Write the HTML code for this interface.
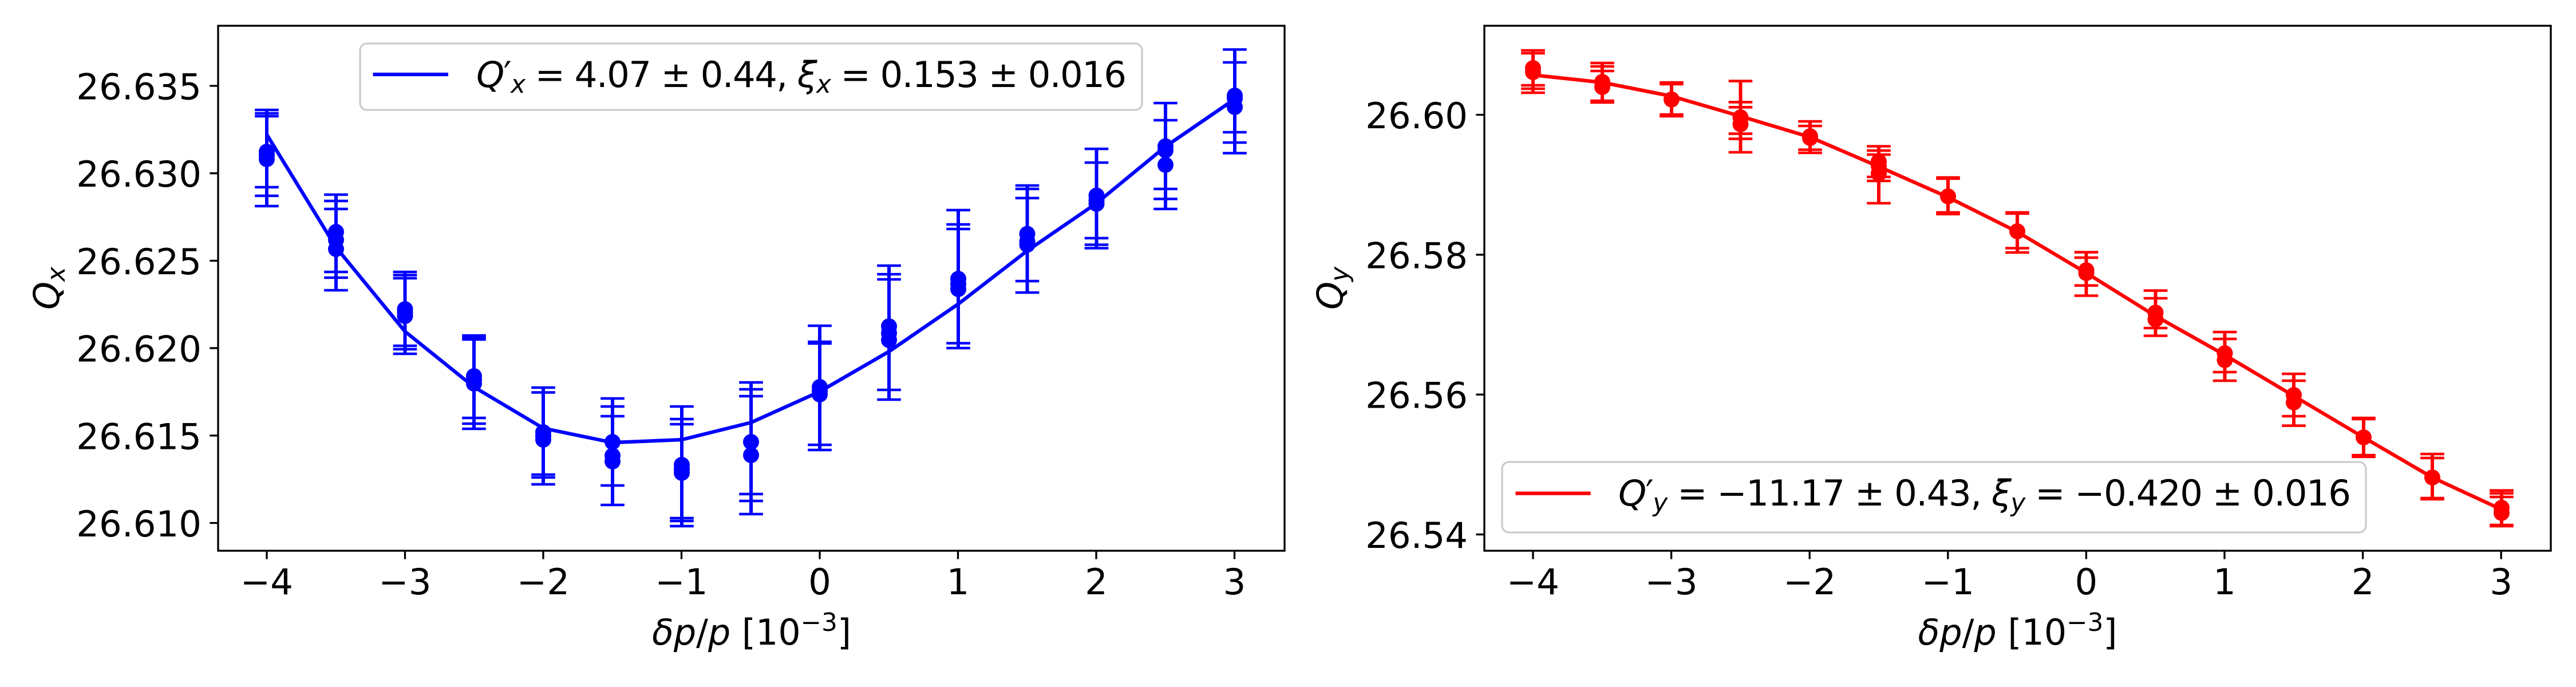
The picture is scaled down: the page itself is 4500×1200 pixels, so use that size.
<!DOCTYPE html>
<html>
<head>
<meta charset="utf-8">
<style>
html,body{margin:0;padding:0;background:#fff;}
svg{display:block;}
text{font-family:"DejaVu Sans","Liberation Sans",sans-serif;fill:#000;}
</style>
</head>
<body>
<svg width="4500" height="1200" viewBox="0 0 4500 1200" xmlns="http://www.w3.org/2000/svg">
<rect x="0" y="0" width="4500" height="1200" fill="#fff"/>

<!-- ================= LEFT PLOT ================= -->
<polyline fill="none" stroke="#0000ff" stroke-width="6.25" stroke-linejoin="round"
 points="466,235 587,432 707.5,579 828,676 949,748 1070,773 1191,768 1312,738 1432,684 1553,614 1674,531 1794.5,438 1915.5,355 2036,256 2157,173"/>
<path fill="none" stroke="#0000ff" stroke-width="6" d="
M466 192V360 M587 340V507 M707.5 475V618 M828 586V749 M949 677V846 M1070 696V882 M1191 710V919 M1312 668V898
M1432 569V786 M1553 464V698 M1674 367V608 M1794.5 324V511 M1915.5 260V433.5 M2036 180V365 M2157 86.5V267.5"/>
<path fill="none" stroke="#0000ff" stroke-width="4.6" d="
M445.2 192h41.6 M445.2 198h41.6 M445.2 203h41.6 M445.2 327h41.6 M445.2 342h41.6 M445.2 360h41.6
M566.2 340h41.6 M566.2 351h41.6 M566.2 365h41.6 M566.2 475h41.6 M566.2 485h41.6 M566.2 507h41.6
M686.7 475h41.6 M686.7 480.5h41.6 M686.7 486h41.6 M686.7 604h41.6 M686.7 610h41.6 M686.7 618h41.6
M807.2 586h41.6 M807.2 589h41.6 M807.2 593h41.6 M807.2 730h41.6 M807.2 740h41.6 M807.2 749h41.6
M928.2 677h41.6 M928.2 685.5h41.6 M928.2 829h41.6 M928.2 834h41.6 M928.2 846h41.6
M1049.2 696h41.6 M1049.2 710h41.6 M1049.2 727h41.6 M1049.2 848h41.6 M1049.2 882h41.6
M1170.2 710h41.6 M1170.2 732h41.6 M1170.2 741h41.6 M1170.2 905h41.6 M1170.2 910h41.6 M1170.2 919h41.6
M1291.2 668h41.6 M1291.2 680h41.6 M1291.2 692h41.6 M1291.2 863h41.6 M1291.2 875h41.6 M1291.2 898h41.6
M1411.2 569h41.6 M1411.2 597h41.6 M1411.2 600h41.6 M1411.2 777h41.6 M1411.2 786h41.6
M1532.2 464h41.6 M1532.2 479h41.6 M1532.2 488h41.6 M1532.2 681h41.6 M1532.2 698h41.6
M1653.2 367h41.6 M1653.2 392h41.6 M1653.2 400h41.6 M1653.2 599.5h41.6 M1653.2 608h41.6
M1773.7 324h41.6 M1773.7 330h41.6 M1773.7 346h41.6 M1773.7 491h41.6 M1773.7 511h41.6
M1894.7 260h41.6 M1894.7 284h41.6 M1894.7 416h41.6 M1894.7 427.5h41.6 M1894.7 433.5h41.6
M2015.2 180h41.6 M2015.2 210h41.6 M2015.2 330h41.6 M2015.2 347.5h41.6 M2015.2 365h41.6
M2136.2 86.5h41.6 M2136.2 109h41.6 M2136.2 231h41.6 M2136.2 249h41.6 M2136.2 267.5h41.6
"/>
<g fill="#0000ff">
<circle cx="466" cy="265" r="14"/><circle cx="466" cy="271" r="14"/><circle cx="466" cy="278" r="14"/>
<circle cx="587" cy="405" r="14"/><circle cx="587" cy="419" r="14"/><circle cx="587" cy="435" r="14"/>
<circle cx="707.5" cy="540" r="14"/><circle cx="707.5" cy="546" r="14"/><circle cx="707.5" cy="552" r="14"/>
<circle cx="828" cy="657" r="14"/><circle cx="828" cy="663" r="14"/><circle cx="828" cy="670" r="14"/>
<circle cx="949" cy="755" r="14"/><circle cx="949" cy="762" r="14"/><circle cx="949" cy="768" r="14"/>
<circle cx="1070" cy="772" r="14"/><circle cx="1070" cy="796" r="14"/><circle cx="1070" cy="806" r="14"/>
<circle cx="1191" cy="812" r="14"/><circle cx="1191" cy="819" r="14"/><circle cx="1191" cy="826" r="14"/>
<circle cx="1312" cy="772" r="14"/><circle cx="1312" cy="795" r="14"/>
<circle cx="1432" cy="676" r="14"/><circle cx="1432" cy="683" r="14"/><circle cx="1432" cy="689" r="14"/>
<circle cx="1553" cy="570" r="14"/><circle cx="1553" cy="582" r="14"/><circle cx="1553" cy="594" r="14"/>
<circle cx="1674" cy="487" r="14"/><circle cx="1674" cy="496" r="14"/><circle cx="1674" cy="505" r="14"/>
<circle cx="1794.5" cy="408.5" r="14"/><circle cx="1794.5" cy="421.6" r="14"/><circle cx="1794.5" cy="427.5" r="14"/>
<circle cx="1915.5" cy="341.5" r="14"/><circle cx="1915.5" cy="350" r="14"/><circle cx="1915.5" cy="356" r="14"/>
<circle cx="2036" cy="255.5" r="14"/><circle cx="2036" cy="262.6" r="14"/><circle cx="2036" cy="288" r="14"/>
<circle cx="2157" cy="167" r="14"/><circle cx="2157" cy="172" r="14"/><circle cx="2157" cy="187" r="14"/>
</g>

<rect x="381" y="45" width="1863" height="917" fill="none" stroke="#000" stroke-width="3.33"/>
<path stroke="#000" stroke-width="3.33" fill="none" d="
M466 962v14.6 M707.5 962v14.6 M949 962v14.6 M1190.5 962v14.6 M1432 962v14.6 M1673.5 962v14.6 M1915 962v14.6 M2156.5 962v14.6
M381 150h-14.6 M381 302.7h-14.6 M381 455.4h-14.6 M381 608.1h-14.6 M381 760.8h-14.6 M381 913.5h-14.6"/>
<g font-size="62.5" text-anchor="end">
<text x="352" y="173.5">26.635</text>
<text x="352" y="326.2">26.630</text>
<text x="352" y="478.9">26.625</text>
<text x="352" y="631.6">26.620</text>
<text x="352" y="784.3">26.615</text>
<text x="352" y="937">26.610</text>
</g>
<g font-size="62.5" text-anchor="middle">
<text x="466" y="1038">−4</text>
<text x="707.5" y="1038">−3</text>
<text x="949" y="1038">−2</text>
<text x="1190.5" y="1038">−1</text>
<text x="1432" y="1038">0</text>
<text x="1673.5" y="1038">1</text>
<text x="1915" y="1038">2</text>
<text x="2156.5" y="1038">3</text>
</g>
<text x="1139" y="1126" font-size="62.5" textLength="348" lengthAdjust="spacingAndGlyphs"><tspan font-style="italic">δp</tspan><tspan>/</tspan><tspan font-style="italic">p</tspan><tspan> [10</tspan><tspan font-size="44" dy="-24">−3</tspan><tspan dy="24">]</tspan></text>
<text transform="translate(103,503.5) rotate(-90)" text-anchor="middle" font-size="62.5"><tspan font-style="italic">Q</tspan><tspan font-style="italic" font-size="43.75" dy="10">x</tspan></text>

<rect x="629" y="76" width="1366" height="116" rx="12" ry="12" fill="#fff" fill-opacity="0.8" stroke="#cccccc" stroke-width="3.33"/>
<line x1="651.6" y1="130" x2="783" y2="130" stroke="#0000ff" stroke-width="6.25"/>
<text x="832" y="152" font-size="62.5" textLength="1136" lengthAdjust="spacing"><tspan font-style="italic">Q</tspan><tspan>′</tspan><tspan font-style="italic" font-size="43.75" dy="10">x</tspan><tspan dy="-10"> = 4.07 ± 0.44, </tspan><tspan font-style="italic">ξ</tspan><tspan font-style="italic" font-size="43.75" dy="10">x</tspan><tspan dy="-10"> = 0.153 ± 0.016</tspan></text>

<!-- ================= RIGHT PLOT ================= -->
<polyline fill="none" stroke="#ff0000" stroke-width="6.25" stroke-linejoin="round"
 points="2678,131 2799,144 2920,168 3040.5,203 3162,239.5 3282,291 3403,344.5 3524,405 3644.5,476.7 3765.5,552 3886.5,620 4007,691.5 4129,764 4249,834 4370,890"/>
<path fill="none" stroke="#ff0000" stroke-width="6" d="
M2678 88V162 M2799 110V179 M2920 144V203 M3040.5 141.6V266 M3162 212V267 M3282 255.5V355 M3403 310V374 M3524 371V441
M3644.5 440.6V516.5 M3765.5 507.6V586.5 M3886.5 580V665 M4007 653V743.6 M4129 730V798 M4249 793V872 M4370 856.7V919"/>
<path fill="none" stroke="#ff0000" stroke-width="4.6" d="
M2657.2 88h41.6 M2657.2 93h41.6 M2657.2 149h41.6 M2657.2 155h41.6 M2657.2 162h41.6
M2778.2 110h41.6 M2778.2 116h41.6 M2778.2 124h41.6 M2778.2 176h41.6 M2778.2 179h41.6
M2899.2 144h41.6 M2899.2 147h41.6 M2899.2 200h41.6 M2899.2 203h41.6
M3019.7 141.6h41.6 M3019.7 178.4h41.6 M3019.7 187.3h41.6 M3019.7 233.6h41.6 M3019.7 242.5h41.6 M3019.7 266h41.6
M3141.2 212h41.6 M3141.2 220h41.6 M3141.2 261.5h41.6 M3141.2 267h41.6
M3261.2 255.5h41.6 M3261.2 263h41.6 M3261.2 270h41.6 M3261.2 309h41.6 M3261.2 316h41.6 M3261.2 355h41.6
M3382.2 310h41.6 M3382.2 312h41.6 M3382.2 371h41.6 M3382.2 374h41.6
M3503.2 371h41.6 M3503.2 373h41.6 M3503.2 433.5h41.6 M3503.2 441h41.6
M3623.7 440.6h41.6 M3623.7 450h41.6 M3623.7 498.7h41.6 M3623.7 516.5h41.6
M3744.7 507.6h41.6 M3744.7 521h41.6 M3744.7 573h41.6 M3744.7 586.5h41.6
M3865.7 580h41.6 M3865.7 592h41.6 M3865.7 650h41.6 M3865.7 665h41.6
M3986.2 653h41.6 M3986.2 665h41.6 M3986.2 727h41.6 M3986.2 743.6h41.6
M4108.2 730h41.6 M4108.2 732h41.6 M4108.2 795h41.6 M4108.2 798h41.6
M4228.2 793h41.6 M4228.2 800h41.6 M4228.2 870h41.6 M4228.2 872h41.6
M4349.2 856.7h41.6 M4349.2 861.7h41.6 M4349.2 868h41.6 M4349.2 917h41.6 M4349.2 919h41.6
"/>
<g fill="#ff0000">
<circle cx="2678" cy="119" r="14"/><circle cx="2678" cy="126" r="14"/>
<circle cx="2799" cy="143" r="14"/><circle cx="2799" cy="152" r="14"/>
<circle cx="2920" cy="173.7" r="14"/>
<circle cx="3040.5" cy="205" r="14"/><circle cx="3040.5" cy="217" r="14"/>
<circle cx="3162" cy="238" r="14"/><circle cx="3162" cy="241" r="14"/>
<circle cx="3282" cy="282" r="14"/><circle cx="3282" cy="290" r="14"/><circle cx="3282" cy="303" r="14"/>
<circle cx="3403" cy="343" r="14"/>
<circle cx="3524" cy="404" r="14"/>
<circle cx="3644.5" cy="472" r="14"/><circle cx="3644.5" cy="477" r="14"/>
<circle cx="3765.5" cy="546" r="14"/><circle cx="3765.5" cy="558" r="14"/>
<circle cx="3886.5" cy="617" r="14"/><circle cx="3886.5" cy="629" r="14"/>
<circle cx="4007" cy="690" r="14"/><circle cx="4007" cy="703" r="14"/>
<circle cx="4129" cy="764" r="14"/>
<circle cx="4249" cy="834" r="14"/>
<circle cx="4370" cy="887" r="14"/><circle cx="4370" cy="896" r="14"/>
</g>

<rect x="2593" y="45" width="1863" height="917" fill="none" stroke="#000" stroke-width="3.33"/>
<path stroke="#000" stroke-width="3.33" fill="none" d="
M2678 962v14.6 M2919.6 962v14.6 M3161.2 962v14.6 M3402.8 962v14.6 M3644.4 962v14.6 M3886 962v14.6 M4127.6 962v14.6 M4369.2 962v14.6
M2593 200.5h-14.6 M2593 444.9h-14.6 M2593 689.2h-14.6 M2593 933.6h-14.6"/>
<g font-size="62.5" text-anchor="end">
<text x="2564" y="224">26.60</text>
<text x="2564" y="468.4">26.58</text>
<text x="2564" y="712.7">26.56</text>
<text x="2564" y="957.1">26.54</text>
</g>
<g font-size="62.5" text-anchor="middle">
<text x="2678" y="1038">−4</text>
<text x="2919.6" y="1038">−3</text>
<text x="3161.2" y="1038">−2</text>
<text x="3402.8" y="1038">−1</text>
<text x="3644.4" y="1038">0</text>
<text x="3886" y="1038">1</text>
<text x="4127.6" y="1038">2</text>
<text x="4369.2" y="1038">3</text>
</g>
<text x="3350.5" y="1126" font-size="62.5" textLength="348" lengthAdjust="spacingAndGlyphs"><tspan font-style="italic">δp</tspan><tspan>/</tspan><tspan font-style="italic">p</tspan><tspan> [10</tspan><tspan font-size="44" dy="-24">−3</tspan><tspan dy="24">]</tspan></text>
<text transform="translate(2345,503.5) rotate(-90)" text-anchor="middle" font-size="62.5"><tspan font-style="italic">Q</tspan><tspan font-style="italic" font-size="43.75" dy="10">y</tspan></text>

<rect x="2624" y="807" width="1509" height="123" rx="12" ry="12" fill="#fff" fill-opacity="0.8" stroke="#cccccc" stroke-width="3.33"/>
<line x1="2647.5" y1="861.7" x2="2778.6" y2="861.7" stroke="#ff0000" stroke-width="6.25"/>
<text x="2827" y="883" font-size="62.5" textLength="1280" lengthAdjust="spacing"><tspan font-style="italic">Q</tspan><tspan>′</tspan><tspan font-style="italic" font-size="43.75" dy="10">y</tspan><tspan dy="-10"> = −11.17 ± 0.43, </tspan><tspan font-style="italic">ξ</tspan><tspan font-style="italic" font-size="43.75" dy="10">y</tspan><tspan dy="-10"> = −0.420 ± 0.016</tspan></text>

</svg>
</body>
</html>
